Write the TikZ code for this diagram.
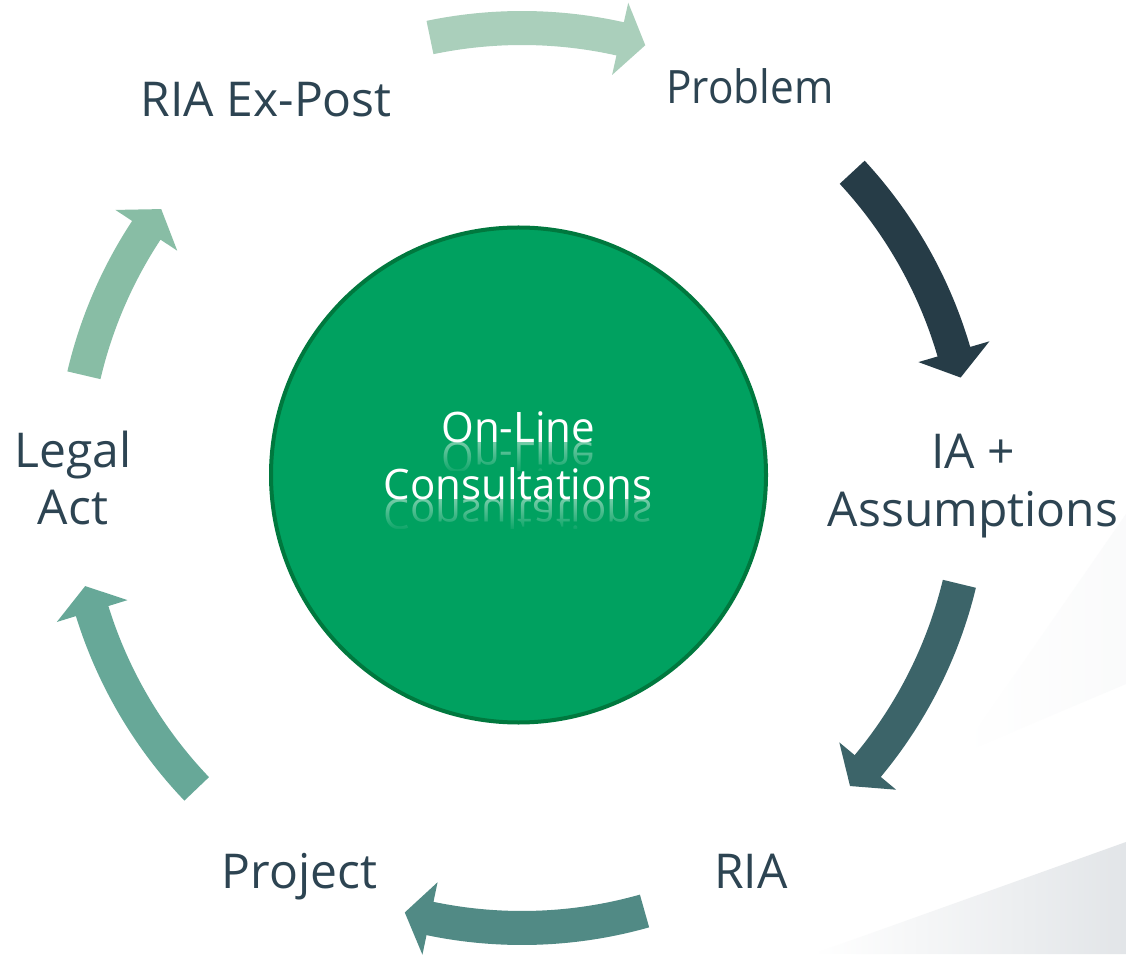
\documentclass[tikz,border=0pt]{standalone}
\usepackage{fontspec}
\setmainfont{Open Sans}
\usetikzlibrary{fadings}
\definecolor{txt}{RGB}{45,68,82}
\definecolor{cfill}{RGB}{0,161,96}
\definecolor{cedge}{RGB}{0,120,62}
\definecolor{aone}{RGB}{170,207,187}
\definecolor{atwo}{RGB}{38,60,71}
\definecolor{athree}{RGB}{60,100,105}
\definecolor{afour}{RGB}{81,138,133}
\definecolor{afive}{RGB}{103,168,152}
\definecolor{asix}{RGB}{136,189,165}
\definecolor{bggray}{RGB}{226,229,232}
\tikzfading[name=coverfade, top color=transparent!100, bottom color=transparent!0]
\newcommand\ringarrow[4]{%
  \fill[#1, shift={(C)}] (#2:467) arc[start angle=#2, end angle=#3, radius=467]
    -- (#3:487) -- (#4:450) -- (#3:413) -- (#3:433)
    arc[start angle=#3, end angle=#2, radius=433] -- cycle;}
\begin{document}
\begin{tikzpicture}[x=1pt,y=1pt,
  lbl/.style={text=txt, font=\fontsize{48}{58}\selectfont, inner sep=0pt, align=center},
  ctr/.style={text=white, font=\fontsize{42}{57}\selectfont, inner sep=0pt, anchor=base}]
\useasboundingbox (0,0) rectangle (1126,954);
\fill[white] (0,0) rectangle (1126,954);
% background shading bottom right
\shade[left color=white, right color=bggray] (813,0) -- (1126,112) -- (1126,0) -- cycle;
\shade[left color=white, right color=bggray!18] (960,200) -- (1126,270) -- (1126,440) -- cycle;
\coordinate (C) at (522,476);
% ring arrows
\ringarrow{aone}{101.8}{77.4}{74.1}
\ringarrow{atwo}{42.8}{16.3}{12.9}
\ringarrow{athree}{-13.6}{-39.8}{-43.2}
\ringarrow{afour}{-74.2}{-101.8}{-105.1}
\ringarrow{afive}{-136.3}{-162.8}{-166.1}
\ringarrow{asix}{166.8}{146.6}{143.3}
% central circle
\node[circle, fill=cfill, draw=cedge, line width=4pt, minimum size=495pt, inner sep=0pt] (hub) at (518.5,479) {};
% reflections
\begin{scope}
  \clip (370,511.3) rectangle (670,483);
  \node[ctr, opacity=0.45, yscale=-1, transform shape] (reflA) at (518.3,511.3) {On-Line};
\end{scope}
\fill[cfill, path fading=coverfade] (370,511.3) rectangle (670,478);
\begin{scope}
  \clip (370,454) rectangle (670,426);
  \node[ctr, opacity=0.45, yscale=-1, transform shape] (reflB) at (518.3,454) {Consultations};
\end{scope}
\fill[cfill, path fading=coverfade] (370,454) rectangle (670,421);
\node[ctr] (lineA) at (518.3,511.3) {On-Line};
\node[ctr] (lineB) at (518.3,454) {Consultations};
% labels
\node[lbl, anchor=base] (expost) at (266.3,837.3) {RIA Ex-Post};
\node[lbl, anchor=base, font=\fontsize{46}{58}\selectfont, xscale=0.92, transform shape] (problem) at (749.8,850.7) {Problem};
\node[lbl, anchor=base] (legal) at (73,429) {Legal\\Act};
\node[lbl, anchor=base] (ia) at (973,427.3) {IA +\\Assumptions};
\node[lbl, anchor=base] (project) at (299.5,66) {Project};
\node[lbl, anchor=base] (ria) at (751,66) {RIA};
\end{tikzpicture}
\end{document}
